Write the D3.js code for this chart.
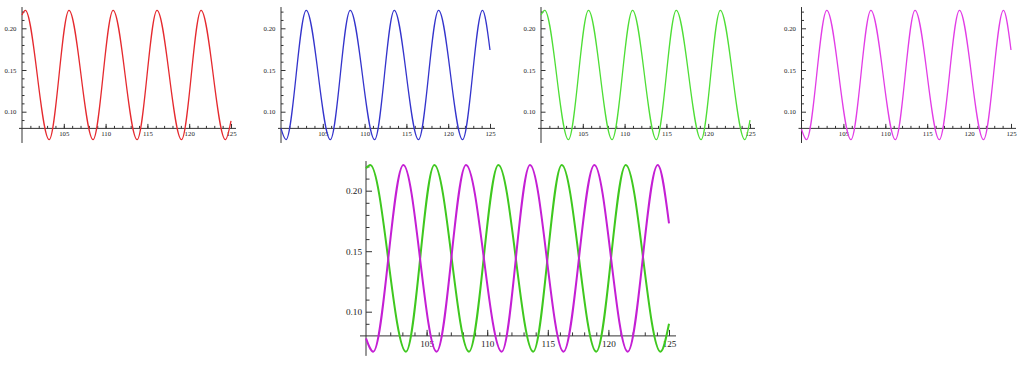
<!DOCTYPE html>
<html>
<head>
<meta charset="utf-8">
<script src="https://cdn.jsdelivr.net/npm/d3@7"></script>
<style>
  body { margin: 0; background: #fff; }
  svg { display: block; }
</style>
</head>
<body>
<div id="chart"></div>
<script>
// values: start, each peak / trough, end  ([x, y])
var redPts = [[100, 0.216], [100.4, 0.2215], [103.25, 0.0665], [105.62, 0.2215], [108.5, 0.0665],
  [110.9, 0.2215], [113.77, 0.0665], [116.15, 0.2215], [119.08, 0.0665], [121.42, 0.2215],
  [124.33, 0.0665], [125, 0.089]];
var bluePts = [[100, 0.080], [100.6, 0.0665], [103.02, 0.2215], [105.9, 0.0665], [108.28, 0.2215],
  [111.2, 0.0665], [113.55, 0.2215], [116.45, 0.0665], [118.85, 0.2215], [121.72, 0.0665],
  [124.1, 0.2215], [125, 0.174]];
var greenPts = [[100, 0.216], [100.45, 0.2215], [103.28, 0.0665], [105.68, 0.2215], [108.5, 0.0665],
  [110.95, 0.2215], [113.8, 0.0665], [116.18, 0.2215], [119.15, 0.0665], [121.45, 0.2215],
  [124.38, 0.0665], [125, 0.09]];
var magentaPts = [[100, 0.079], [100.6, 0.0665], [103.02, 0.2215], [105.9, 0.0665], [108.28, 0.2215],
  [111.2, 0.0665], [113.55, 0.2215], [116.45, 0.0665], [118.85, 0.2215], [121.72, 0.0665],
  [124.1, 0.2215], [125, 0.174]];
var bigGreenPts = [[100, 0.2185], [100.35, 0.2212], [103.3, 0.067], [105.64, 0.2212], [108.5, 0.067],
  [110.92, 0.2212], [113.8, 0.067], [116.15, 0.2212], [119.0, 0.067], [121.43, 0.2212],
  [124.3, 0.067], [125, 0.090]];
var bigMagentaPts = [[100, 0.078], [100.6, 0.067], [103.08, 0.2212], [105.83, 0.067], [108.25, 0.2212],
  [111.2, 0.067], [113.53, 0.2212], [116.3, 0.067], [118.84, 0.2212], [121.6, 0.067],
  [124.07, 0.2212], [125, 0.173]];

var xMajor = [105, 110, 115, 120, 125];
var xMinor = d3.range(101, 125);
var yMajor = [0.10, 0.15, 0.20];
var yMinor = [0.09, 0.11, 0.12, 0.13, 0.14, 0.16, 0.17, 0.18, 0.19, 0.21, 0.22];

var svg = d3.select("#chart").append("svg")
  .attr("width", 1024)
  .attr("height", 365);

// small panels share the vertical layout
var small = {yr: [111.7, 28.3], axisY: 0.08, yLo: 0.0625, yHi: 0.2255,
  big: 4.5, minor: 2.5, font: 6.8, xPad: 2.5, yPad: 5.5, lw: 1.3, ext: [3, 5]};
var large = {yr: [311.7, 190.7], axisY: 0.08, yLo: 0.0635, yHi: 0.2245,
  big: 6, minor: 3.5, font: 9.2, xPad: 4.5, yPad: 4, lw: 2, ext: [6, 7]};

function panel(xr, lay, series) {
  var x = d3.scaleLinear().domain([100, 125]).range(xr);
  var y = d3.scaleLinear().domain([0.10, 0.20]).range(lay.yr);
  var g = svg.append("g");
  var oy = y(lay.axisY);

  // axis lines
  g.append("line")
    .attr("x1", x(100) - lay.ext[0]).attr("x2", x(125) + lay.ext[1])
    .attr("y1", oy).attr("y2", oy)
    .attr("stroke", "#333").attr("stroke-width", 1);
  g.append("line")
    .attr("x1", x(100)).attr("x2", x(100))
    .attr("y1", y(lay.yLo)).attr("y2", y(lay.yHi))
    .attr("stroke", "#333").attr("stroke-width", 1);

  // x ticks (pointing up)
  var xg = g.append("g").attr("transform", "translate(0," + oy + ")");
  xg.append("g").call(d3.axisBottom(x).tickValues(xMinor).tickSize(-lay.minor).tickFormat(""));
  xg.append("g").call(d3.axisBottom(x).tickValues(xMajor).tickSize(-lay.big).tickPadding(lay.xPad).tickFormat(d3.format("d")));

  // y ticks (pointing right)
  var yg = g.append("g").attr("transform", "translate(" + x(100) + ",0)");
  yg.append("g").call(d3.axisLeft(y).tickValues(yMinor).tickSize(-lay.minor).tickFormat(""));
  yg.append("g").call(d3.axisLeft(y).tickValues(yMajor).tickSize(-lay.big).tickPadding(lay.yPad).tickFormat(d3.format(".2f")));

  g.selectAll(".domain").remove();
  g.selectAll(".tick line").attr("stroke", "#333");
  g.selectAll(".tick text")
    .attr("fill", "#222")
    .style("font-family", "'Liberation Serif', 'DejaVu Serif', serif")
    .style("font-size", lay.font + "px");

  var line = d3.line()
    .x(function(d) { return x(d[0]); })
    .y(function(d) { return y(d[1]); })
    .curve(d3.curveMonotoneX);

  series.forEach(function(s) {
    g.append("path")
      .datum(s.pts)
      .attr("d", line)
      .attr("fill", "none")
      .attr("stroke", s.color)
      .attr("stroke-width", lay.lw);
  });
}

panel([22, 231], small, [{pts: redPts, color: "#e52a2f"}]);
panel([281, 490], small, [{pts: bluePts, color: "#3434cc"}]);
panel([541, 750], small, [{pts: greenPts, color: "#4ede36"}]);
panel([801.5, 1011], small, [{pts: magentaPts, color: "#e23de6"}]);
panel([366, 669], large, [{pts: bigGreenPts, color: "#3fc81f"}, {pts: bigMagentaPts, color: "#c41fd4"}]);
</script>
</body>
</html>
